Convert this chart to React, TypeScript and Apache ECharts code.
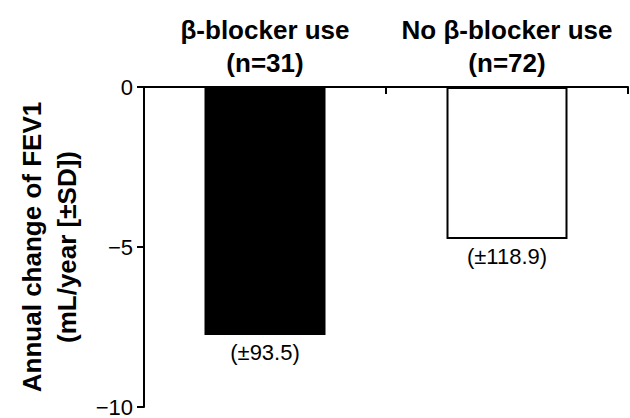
import React, { useEffect, useRef } from "react";
import * as echarts from "echarts";

const categories = ["β-blocker use\n(n=31)", "No β-blocker use\n(n=72)"];
const values = [-7.75, -4.75];
const sdLabels = ["(±93.5)", "(±118.9)"];
const yTicks = { min: -10, max: 0, interval: 5 };

const FONT = "'Liberation Sans', Arial, sans-serif";

export default function App() {
  const ref = useRef<HTMLDivElement>(null);
  useEffect(() => {
    if (!ref.current) return;
    const chart = echarts.init(ref.current, undefined, { renderer: "svg" });
    chart.setOption({
      animation: false,
      backgroundColor: "#fff",
      grid: { left: 144, right: 2, top: 87, bottom: 8 },
      xAxis: {
        type: "category",
        position: "top",
        data: categories,
        axisLine: { lineStyle: { color: "#000", width: 2 } },
        axisTick: { show: true, inside: true, length: 7, interval: 0, lineStyle: { color: "#000", width: 2 } },
        axisLabel: {
          interval: 0,
          hideOverlap: false,
          color: "#000",
          fontFamily: FONT,
          fontWeight: "bold",
          fontSize: 26,
          lineHeight: 33,
          margin: 8,
        },
      },
      yAxis: {
        type: "value",
        min: yTicks.min,
        max: yTicks.max,
        interval: yTicks.interval,
        name: "Annual change of FEV1\n(mL/year [±SD])",
        nameLocation: "middle",
        nameGap: 53,
        nameTextStyle: {
          color: "#000",
          fontFamily: FONT,
          fontWeight: "bold",
          fontSize: 26,
          lineHeight: 35,
        },
        splitLine: { show: false },
        axisLine: { show: true, lineStyle: { color: "#000", width: 2 } },
        axisTick: { show: true, length: 7, lineStyle: { color: "#000", width: 2 } },
        axisLabel: {
          color: "#000",
          fontFamily: FONT,
          fontSize: 22,
          margin: 11,
          formatter: (v: number) => String(v).replace("-", "\u2212"),
        },
      },
      series: [
        {
          type: "bar",
          barWidth: "50%",
          data: values.map((v, i) => ({
            value: v,
            itemStyle:
              i === 0
                ? { color: "#000" }
                : { color: "#fff", borderColor: "#000", borderWidth: 2 },
          })),
          label: {
            show: true,
            position: "bottom",
            distance: 6,
            color: "#000",
            fontFamily: FONT,
            fontSize: 22,
            formatter: (p: any) => sdLabels[p.dataIndex],
          },
        },
      ],
    });
    return () => chart.dispose();
  }, []);
  return (
    <div
      ref={ref}
      style={{ position: "fixed", left: 0, top: 0, width: 630, height: 418 }}
    />
  );
}
